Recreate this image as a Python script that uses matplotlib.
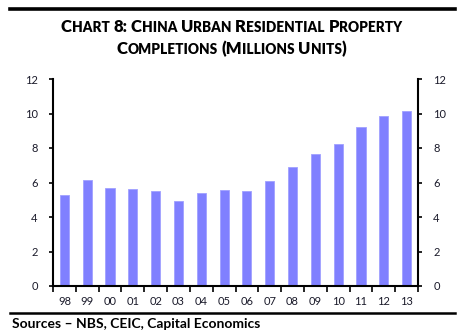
import matplotlib
matplotlib.use("Agg")
import matplotlib.pyplot as plt
from matplotlib.lines import Line2D

# Completions by year (millions of units)
years = ["98", "99", "00", "01", "02", "03", "04", "05",
         "06", "07", "08", "09", "10", "11", "12", "13"]
completions = [5.30, 6.16, 5.69, 5.63, 5.51, 4.91, 5.40, 5.57,
               5.53, 6.07, 6.89, 7.63, 8.25, 9.20, 9.86, 10.17]
y_ticks = [0, 2, 4, 6, 8, 10, 12]

TITLE_LINES = ["Chart 8: China Urban Residential Property",
               "Completions (Millions Units)"]
SOURCE = "Sources \u2013 NBS, CEIC, Capital Economics"

W, H = 463, 336
plt.rcParams["font.family"] = ["Lato", "DejaVu Sans"]

fig = plt.figure(figsize=(W / 100, H / 100), dpi=100)
ax = fig.add_axes([53 / W, 1 - 286 / H, (418 - 53) / W, (286 - 79) / H])

x = range(len(years))
ax.bar(x, completions, width=0.4, color="#8080ff", edgecolor="#a0a0ff", linewidth=0.6)

ax.set_xlim(-0.5, len(years) - 0.5)
ax.set_ylim(0, 12)
ax.set_yticks(y_ticks)
ax.set_xticks(x)
ax.set_xticklabels(years)
ax.set_xticks([i + 0.5 for i in range(-1, len(years))], minor=True)

ax.spines["top"].set_visible(False)
for side in ("left", "right", "bottom"):
    ax.spines[side].set_linewidth(1.5)

ax.tick_params(axis="x", which="major", length=0, pad=7, labelsize=8)
ax.tick_params(axis="x", which="minor", length=4, width=1.2, direction="out")
ax.tick_params(axis="y", which="major", length=3, width=1.2, direction="out",
               left=True, right=True, labelleft=True, labelright=True,
               labelsize=8, pad=8)
for lbl in ax.get_yticklabels() + ax.get_xticklabels():
    lbl.set_color("#1a1a2a")


def smallcaps(text, y_px, big=12, small=9.8, cx=W / 2):
    # lay out one line of small-caps text centred at cx, baseline at y_px
    runs = []
    for ch in text:
        if ch == " ":
            kind = "space"
        elif ch.islower():
            kind = "small"
        else:
            kind = "big"
        if runs and runs[-1][0] == kind:
            runs[-1][1] += ch
        else:
            runs.append([kind, ch])
    renderer = fig.canvas.get_renderer()
    items = []
    total = 0.0
    for kind, s in runs:
        if kind == "space":
            w = 3.6 * len(s)
            items.append((None, w))
        else:
            t = fig.text(0, 1 - y_px / H, s.upper(), fontsize=big if kind == "big" else small,
                         fontweight="heavy", va="baseline", ha="left", color="black")
            w = t.get_window_extent(renderer).width
            items.append((t, w))
        total += w
    xpos = cx - total / 2
    for t, w in items:
        if t is not None:
            t.set_x(xpos / W)
        xpos += w


smallcaps(TITLE_LINES[0], 32)
smallcaps(TITLE_LINES[1], 54)

fig.text(12 / W, 1 - 328 / H, SOURCE, fontsize=10, fontweight="bold",
         va="baseline", ha="left", color="black")

fig.add_artist(Line2D([10 / W, 455 / W], [1 - 8.5 / H] * 2, lw=2.6, color="black"))
fig.add_artist(Line2D([10 / W, 455 / W], [1 - 313 / H] * 2, lw=1.8, color="black"))

fig.savefig("out.png", dpi=100)
